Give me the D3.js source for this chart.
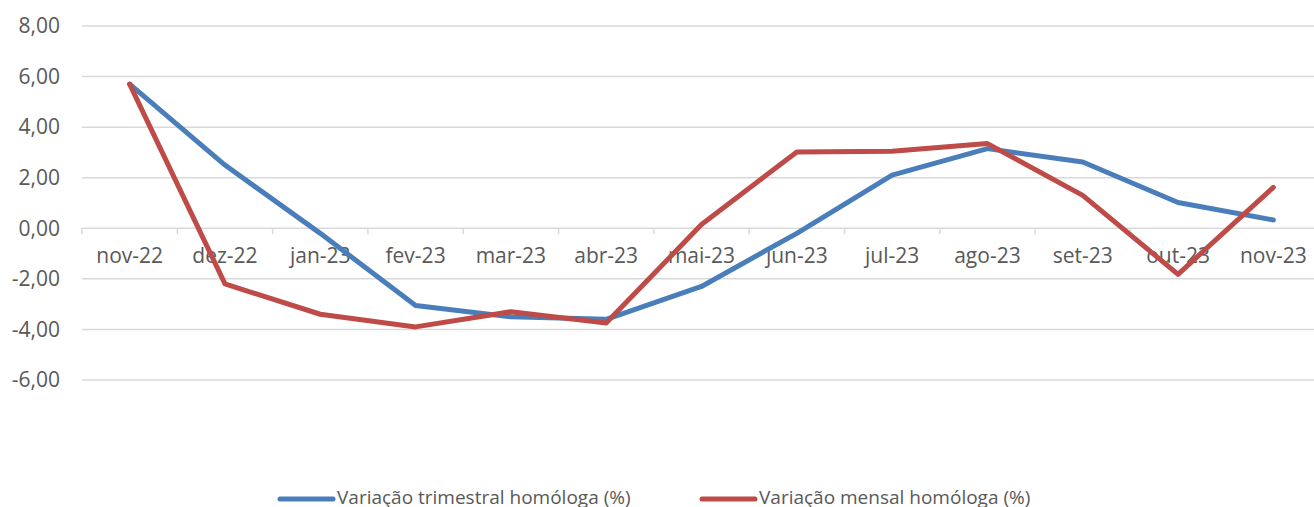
<!DOCTYPE html>
<html>
<head>
<meta charset="utf-8">
<script src="https://cdn.jsdelivr.net/npm/d3@7"></script>
<style>
  body { margin: 0; background: #fff; }
  svg { display: block; }
</style>
</head>
<body>
<div id="chart"></div>
<script>
const categories = ["nov-22", "dez-22", "jan-23", "fev-23", "mar-23", "abr-23", "mai-23",
                    "jun-23", "jul-23", "ago-23", "set-23", "out-23", "nov-23"];
const trimestral = [5.7, 2.5, -0.2, -3.05, -3.5, -3.6, -2.3, -0.2, 2.1, 3.15, 2.62, 1.02, 0.33];
const mensal = [5.7, -2.2, -3.4, -3.9, -3.3, -3.75, 0.15, 3.02, 3.05, 3.35, 1.3, -1.82, 1.62];
const yTicks = [-6, -4, -2, 0, 2, 4, 6, 8];
const seriesNames = ["Variação trimestral homóloga (%)", "Variação mensal homóloga (%)"];
const seriesColors = ["#4a7ebb", "#be4b48"];

const width = 1314, height = 507;
const font = "'Open Sans', sans-serif";
const textColor = "#595959";

const svg = d3.select("#chart").append("svg")
    .attr("width", width)
    .attr("height", height);

const x = d3.scaleBand()
    .domain(categories)
    .range([82, 1321]);

const y = d3.scaleLinear()
    .domain([-6, 8])
    .range([380, 26]);

// Portuguese style: comma decimal, plain hyphen for minus
const fmt = v => d3.format(".2f")(v).replace(".", ",").replace("\u2212", "-");

// grid lines
svg.append("g")
    .selectAll("line")
    .data(yTicks)
    .enter().append("line")
    .attr("x1", 82)
    .attr("x2", width)
    .attr("y1", d => y(d))
    .attr("y2", d => y(d))
    .attr("stroke", "#d9d9d9")
    .attr("stroke-width", 1.5);

// y labels
svg.append("g")
    .selectAll("text")
    .data(yTicks)
    .enter().append("text")
    .attr("x", 60)
    .attr("y", d => y(d))
    .attr("dy", "0.35em")
    .attr("text-anchor", "end")
    .attr("font-family", font)
    .attr("font-size", 21)
    .attr("fill", textColor)
    .text(d => fmt(d));

// category axis on zero line
const xAxis = svg.append("g")
    .attr("transform", `translate(0,${y(0)})`)
    .call(d3.axisBottom(x).tickSize(0).tickPadding(20));
xAxis.select(".domain").remove();
xAxis.selectAll("text")
    .attr("font-family", font)
    .attr("font-size", 21)
    .attr("fill", textColor);

svg.append("g")
    .selectAll("line")
    .data(categories)
    .enter().append("line")
    .attr("x1", d => x(d))
    .attr("x2", d => x(d))
    .attr("y1", y(0))
    .attr("y2", y(0) + 6)
    .attr("stroke", "#d9d9d9")
    .attr("stroke-width", 1.5);

const line = d3.line()
    .x((d, i) => x(categories[i]) + x.bandwidth() / 2)
    .y(d => y(d));

[trimestral, mensal].forEach((s, k) => {
    svg.append("path")
        .datum(s)
        .attr("fill", "none")
        .attr("stroke", seriesColors[k])
        .attr("stroke-width", 5)
        .attr("stroke-linejoin", "round")
        .attr("stroke-linecap", "round")
        .attr("d", line);
});

// legend
const legendX = [280, 702];
seriesNames.forEach((name, k) => {
    const g = svg.append("g").attr("transform", `translate(${legendX[k]},499)`);
    g.append("line")
        .attr("x1", 0).attr("x2", 53)
        .attr("y1", 0).attr("y2", 0)
        .attr("stroke", seriesColors[k])
        .attr("stroke-width", 5)
        .attr("stroke-linecap", "round");
    g.append("text")
        .attr("x", 57)
        .attr("y", 5)
        .attr("font-family", font)
        .attr("font-size", 19)
        .attr("fill", textColor)
        .text(name);
});
</script>
</body>
</html>
